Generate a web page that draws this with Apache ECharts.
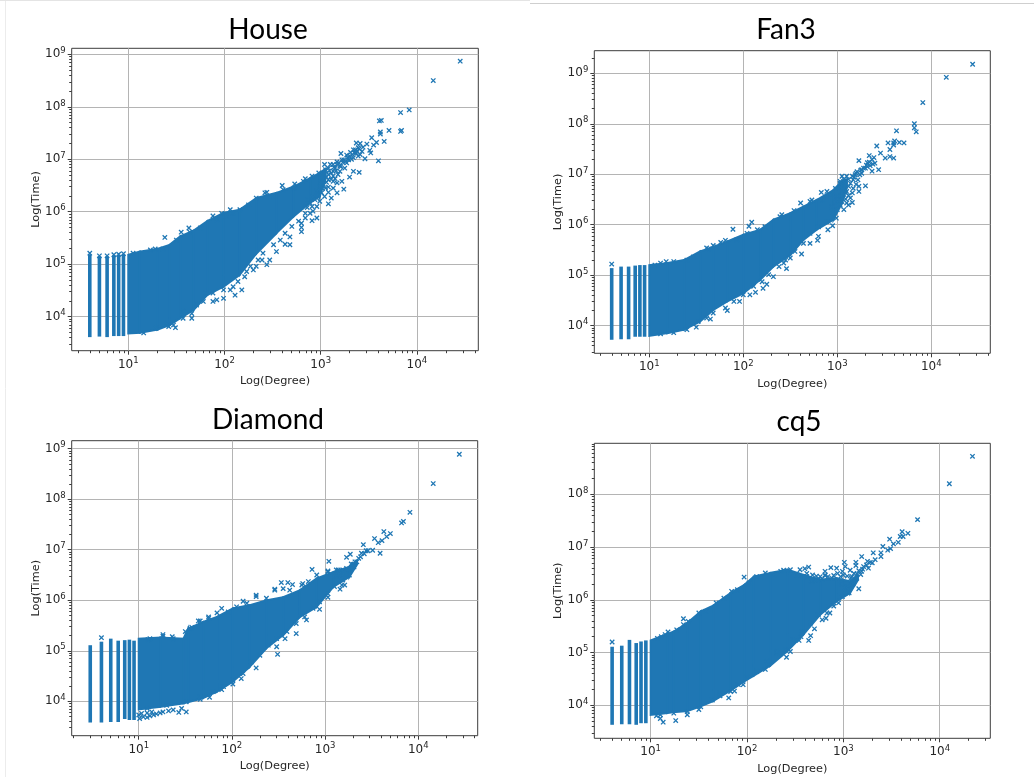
<!DOCTYPE html>
<html><head><meta charset="utf-8">
<style>html,body{margin:0;padding:0;background:#fff}#chart{width:1034px;height:777px;filter:blur(0.45px)}</style>
<script src="https://cdn.jsdelivr.net/npm/echarts@6/dist/echarts.min.js"></script>
</head><body><div id="chart"></div>
<script>
// All values below are log10 of the quantity (the axes are Log(Degree) / Log(Time)).
const houseColumns = [[0.60,3.61,5.19],[0.70,3.62,5.15],[0.78,3.61,5.15],[0.85,3.63,5.17],[0.90,3.63,5.18],[0.95,3.63,5.19]];
const houseColumnTops = [[0.60,5.21],[0.70,5.16],[0.78,5.16],[0.85,5.18],[0.90,5.19],[0.95,5.20]];
const houseBandX = [1,1.12,1.30,1.43,1.54,1.68,1.82,1.99,2.16,2.33,2.54,2.72,2.89,2.99,3.05];
const houseBandHigh = [5.18,5.24,5.29,5.37,5.53,5.64,5.82,5.98,6.04,6.26,6.36,6.48,6.64,6.74,6.82];
const houseBandLow = [3.68,3.69,3.75,3.84,3.97,4.13,4.41,4.57,4.80,5.20,5.59,5.91,6.17,6.29,6.62];
const houseScatter = [[4.45,8.87],[4.17,8.50],[3.92,7.94],[3.83,7.89],[3.63,7.74],[3.61,7.73],[3.71,7.55],[3.84,7.55],[3.83,7.53],[3.62,7.52],[3.62,7.48],[3.53,7.41],[3.66,7.34],[3.58,7.32],[3.55,7.27],[3.48,7.29],[3.60,6.97],[3.51,7.17],[3.52,7.12],[3.46,7.01],[3.44,7.23],[3.37,7.31],[3.41,7.30],[3.36,7.18],[3.39,7.22],[3.43,7.15],[3.37,7.12],[3.41,7.09],[3.34,7.03],[3.30,7.06],[3.27,7.08],[3.21,7.11],[3.29,6.99],[3.22,6.99],[3.17,6.95],[3.13,6.90],[3.04,6.90],[3.08,6.83],[3.15,6.83],[3.20,6.87],[3.25,6.83],[3.34,6.77],[3.40,6.75],[3.30,6.66],[3.22,6.58],[3.17,6.55],[3.13,6.68],[3.08,6.71],[3.03,6.74],[3.18,6.71],[3.08,6.47],[3.13,6.45],[3.24,6.43],[3.17,6.36],[3.08,6.37],[3.11,6.26],[3.08,6.15],[3.04,6.29],[2.99,6.20],[2.92,6.01],[2.96,5.88],[2.91,5.83],[2.80,5.78],[2.80,5.70],[2.80,5.62],[2.68,5.52],[2.68,5.37],[2.63,5.38],[2.54,5.24],[2.47,5.08],[2.39,5.08],[2.44,4.99],[2.33,4.96],[2.30,4.89],[2.23,4.86],[2.18,4.51],[2.11,4.41],[2.06,4.51],[1.99,4.35],[1.88,4.29],[1.81,4.45],[1.71,4.25],[1.57,4.10],[1.66,3.97],[1.49,3.79],[1.42,3.81],[1.38,5.51],[1.55,5.61],[1.63,5.69],[1.88,5.92],[1.97,5.97],[2.06,6.04],[2.16,6.04],[2.33,6.26],[2.44,6.37],[2.60,6.50],[2.73,6.53],[2.84,6.63]];
const houseEdge = [[1.05,5.21],[1.23,5.27],[1.28,5.29],[1.36,5.29],[1.50,5.46],[1.64,5.61],[1.75,5.69],[1.92,5.85],[2.02,5.91],[2.09,5.97],[2.25,6.13],[2.42,6.36],[2.51,6.29],[2.61,6.42],[2.72,6.45],[2.82,6.58],[2.91,6.68],[2.98,6.74],[1.16,3.69],[1.29,3.78],[1.40,3.87],[1.47,3.84],[1.57,3.97],[1.66,4.06],[1.71,4.22],[1.78,4.29],[1.88,4.45],[1.92,4.32],[1.99,4.51],[2.09,4.57],[2.14,4.67],[2.21,4.76],[2.27,4.96],[2.35,5.08],[2.40,5.21],[2.51,5.37],[2.58,5.46],[2.63,5.59],[2.70,5.72],[2.77,5.82],[2.84,5.97],[2.91,6.10],[3.01,6.68],[3.05,6.80],[3.10,6.90],[3.17,6.90],[3.24,6.99],[3.31,7.13],[3.34,7.18],[3.39,7.06],[3.27,6.93],[3.20,6.77],[3.13,6.77],[3.08,6.61],[3.13,6.58],[3.03,6.52],[2.99,6.48],[3.05,6.45],[2.96,6.39],[3.01,6.36],[2.94,6.23],[2.89,6.17],[2.96,6.10],[2.89,5.97],[2.84,5.88],[2.87,6.23],[3.02,6.62],[3.06,6.66],[3.09,6.78],[3.11,6.74],[3.14,6.85],[3.16,6.78],[3.19,6.93],[3.21,6.86],[3.23,6.94],[3.26,6.96],[3.28,7.03],[3.32,7.00],[3.33,7.09],[3.35,7.12],[3.38,7.15],[3.40,7.20],[3.11,6.62],[3.15,6.63],[3.06,6.56],[3.00,6.56],[2.97,6.33],[3.02,6.44],[2.92,6.28],[2.86,6.08]];

const fanColumns = [[0.60,3.72,5.14],[0.70,3.73,5.17],[0.78,3.73,5.17],[0.85,3.78,5.19],[0.90,3.78,5.20],[0.95,3.78,5.20]];
const fanColumnTops = [[0.60,5.22]];
const fanBandX = [1,1.19,1.37,1.54,1.68,1.83,2.00,2.18,2.32,2.50,2.64,2.78,2.96,3.05,3.10];
const fanBandHigh = [5.20,5.24,5.30,5.47,5.56,5.67,5.80,5.90,6.10,6.23,6.36,6.49,6.69,6.86,6.90];
const fanBandLow = [3.80,3.85,3.92,4.08,4.31,4.48,4.64,4.91,5.17,5.40,5.70,5.90,6.10,6.43,6.72];
const fanScatter = [[4.44,9.18],[4.16,8.92],[3.91,8.42],[3.82,8.00],[3.82,7.92],[3.84,7.84],[3.63,7.86],[3.61,7.66],[3.60,7.62],[3.60,7.58],[3.66,7.63],[3.71,7.62],[3.54,7.62],[3.42,7.56],[3.56,7.49],[3.46,7.42],[3.56,7.35],[3.60,7.32],[3.51,7.32],[3.39,7.33],[3.34,7.37],[3.44,7.09],[3.37,7.29],[3.40,7.22],[3.32,7.23],[3.23,7.27],[3.35,7.17],[3.30,7.12],[3.37,7.06],[3.26,7.09],[3.20,7.02],[3.24,6.99],[3.16,6.96],[3.10,6.96],[3.22,6.89],[3.30,6.77],[3.23,6.66],[3.16,6.63],[3.09,6.63],[3.05,6.96],[3.03,6.86],[3.12,6.76],[3.09,6.51],[3.16,6.44],[3.12,6.39],[3.07,6.30],[2.99,6.13],[2.95,5.98],[2.90,5.90],[2.83,6.64],[2.89,6.66],[2.80,5.77],[2.79,5.69],[2.71,5.63],[2.62,5.42],[2.46,5.13],[2.25,4.82],[2.21,4.74],[2.13,4.66],[2.07,4.61],[1.96,4.48],[1.83,4.30],[1.65,4.13],[1.50,3.97],[1.89,5.91],[2.09,6.05],[2.06,5.97],[1.61,5.54],[1.68,5.59],[1.76,5.65],[2.61,6.43],[2.73,6.49],[2.54,6.28],[2.39,6.16],[1.18,5.27],[2.50,5.34],[2.43,5.24],[2.32,4.97]];
const fanEdge = [[1.06,5.20],[1.12,5.24],[1.26,5.27],[1.40,5.30],[1.47,5.36],[1.63,5.52],[1.72,5.56],[1.81,5.69],[1.93,5.70],[2.04,5.83],[2.15,5.90],[2.23,5.96],[2.41,6.20],[2.71,6.46],[2.85,6.49],[2.93,6.59],[2.98,6.72],[3.03,6.82],[1.12,3.84],[1.26,3.86],[1.40,3.92],[1.52,4.08],[1.61,4.15],[1.68,4.25],[1.81,4.35],[1.90,4.48],[2.00,4.61],[2.11,4.78],[2.20,4.87],[2.27,5.01],[2.38,5.17],[2.45,5.30],[2.55,5.47],[2.64,5.63],[2.71,5.83],[2.80,5.96],[2.89,6.06],[2.96,6.23],[3.03,6.39],[3.09,6.86],[3.17,6.89],[3.19,6.99],[3.26,7.02],[3.32,7.15],[3.10,6.66],[3.05,6.72],[3.00,6.56],[3.05,6.46],[2.94,6.36],[3.00,6.30],[3.14,6.53],[3.23,6.76],[3.17,6.72],[3.10,6.43],[3.07,6.90],[3.12,6.90],[3.14,6.82],[3.18,6.94],[3.21,7.05],[3.25,7.08],[3.28,7.12],[3.31,7.18],[3.34,7.24],[3.38,7.20],[3.12,6.58],[3.07,6.60],[3.04,6.58],[3.02,6.48],[2.97,6.45],[3.08,6.78],[3.20,6.80]];

const diamondColumns = [[0.48,3.58,5.11],[0.60,3.58,5.18],[0.70,3.59,5.24],[0.78,3.59,5.20],[0.85,3.65,5.21],[0.90,3.63,5.22],[0.95,3.63,5.20]];
const diamondColumnTops = [[0.60,5.26]];
const diamondBandX = [1,1.23,1.48,1.53,1.69,1.84,2.01,2.19,2.37,2.55,2.73,2.91,3.09,3.26,3.34];
const diamondBandHigh = [5.24,5.26,5.24,5.44,5.57,5.67,5.84,5.90,6.00,6.06,6.20,6.43,6.56,6.66,6.78];
const diamondBandLow = [3.84,3.89,3.96,3.98,4.06,4.19,4.39,4.68,5.05,5.31,5.67,5.87,6.27,6.46,6.70];
const diamondScatter = [[4.44,8.89],[4.16,8.31],[3.91,7.74],[3.84,7.56],[3.82,7.53],[3.63,7.36],[3.70,7.32],[3.66,7.26],[3.53,7.22],[3.61,7.18],[3.57,7.14],[3.59,6.93],[3.41,7.10],[3.51,6.99],[3.44,6.98],[3.39,6.93],[3.27,6.91],[3.23,6.85],[3.36,6.83],[3.34,6.76],[3.30,6.71],[3.04,6.77],[2.86,6.61],[3.25,6.60],[3.19,6.60],[3.14,6.60],[3.03,6.58],[3.21,6.30],[3.18,6.30],[3.16,6.22],[3.03,6.06],[2.94,5.82],[2.80,5.61],[2.69,5.34],[2.57,5.24],[2.48,5.08],[2.49,4.93],[2.26,4.66],[2.10,4.45],[2.01,4.34],[1.89,4.23],[1.76,4.08],[1.66,4.04],[2.53,6.35],[2.60,6.35],[2.55,6.23],[2.46,6.22],[2.65,6.31],[2.76,6.33],[2.26,6.10],[2.12,5.98],[1.89,5.84],[1.75,5.67],[1.64,5.59],[1.55,5.44],[1.26,5.32],[1.36,5.28],[1.10,5.22],[1.01,3.66],[1.05,3.69],[1.09,3.68],[1.12,3.71],[1.16,3.73],[1.19,3.75],[1.23,3.77],[1.26,3.79],[1.32,3.81],[1.37,3.83],[1.43,3.78],[1.46,3.86],[1.51,3.79],[1.00,3.73],[1.03,3.76],[1.09,3.77],[1.14,3.79]];
const diamondEdge = [[1.12,5.24],[1.26,5.29],[1.37,5.24],[1.50,5.38],[1.57,5.46],[1.66,5.59],[1.75,5.64],[1.84,5.75],[1.96,5.77],[2.05,5.87],[2.16,5.94],[2.26,6.07],[2.37,6.04],[2.46,6.20],[2.62,6.20],[2.75,6.30],[2.82,6.37],[2.91,6.50],[3.03,6.56],[3.12,6.60],[3.23,6.63],[1.09,3.86],[1.30,3.92],[1.51,3.99],[1.66,4.09],[1.80,4.19],[1.91,4.29],[2.01,4.42],[2.12,4.55],[2.21,4.78],[2.30,4.91],[2.39,5.11],[2.48,5.24],[2.59,5.38],[2.69,5.54],[2.78,5.67],[2.87,5.84],[2.94,5.97],[3.03,6.13],[3.10,6.27],[3.19,6.40],[3.26,6.50],[3.12,6.48],[3.15,6.52],[3.20,6.52],[3.28,6.72],[3.32,6.76],[3.38,6.86],[3.42,6.92],[3.46,6.98],[3.31,6.66],[3.17,6.42]];

const cqColumns = [[0.60,3.63,5.11],[0.70,3.64,5.13],[0.78,3.64,5.24],[0.85,3.63,5.18],[0.90,3.66,5.21],[0.95,3.66,5.23]];
const cqColumnTops = [[0.60,5.20]];
const cqBandX = [1,1.17,1.24,1.38,1.52,1.65,1.83,1.97,2.07,2.24,2.42,2.59,2.76,2.93,3.07,3.15];
const cqBandHigh = [5.23,5.35,5.40,5.56,5.78,5.89,6.13,6.28,6.44,6.51,6.57,6.47,6.38,6.41,6.35,6.47];
const cqBandLow = [3.82,3.85,3.87,3.89,3.98,4.08,4.28,4.45,4.56,4.75,5.03,5.35,5.72,5.97,6.13,6.37];
const cqScatter = [[4.34,8.72],[4.10,8.20],[3.77,7.52],[3.61,7.29],[3.67,7.26],[3.59,7.20],[3.62,7.20],[3.48,7.15],[3.57,7.09],[3.52,7.06],[3.41,7.01],[3.49,6.97],[3.46,6.94],[3.31,6.89],[3.19,6.82],[3.01,6.71],[3.13,6.71],[3.13,6.65],[3.39,6.89],[3.39,6.82],[3.33,6.76],[3.30,6.70],[3.25,6.73],[3.21,6.63],[3.26,6.60],[3.19,6.54],[3.14,6.49],[3.09,6.44],[3.02,6.63],[2.93,6.60],[2.99,6.54],[3.07,6.56],[3.16,6.21],[3.04,6.25],[3.02,6.16],[2.95,5.94],[2.82,5.65],[2.86,5.75],[2.66,5.32],[2.64,5.23],[2.54,5.23],[2.41,4.91],[2.31,4.99],[2.19,4.68],[1.96,4.39],[1.87,4.27],[1.81,4.14],[1.72,4.18],[1.50,3.92],[1.38,3.82],[1.26,3.71],[1.13,3.68],[1.10,3.75],[1.06,3.80],[1.97,6.43],[1.84,6.16],[1.68,5.94],[1.34,5.64],[1.34,5.53],[1.18,5.39],[1.11,5.30],[2.19,6.51],[2.38,6.56],[2.55,6.57],[2.64,6.62],[2.60,6.59],[2.81,6.54],[2.87,6.61],[2.76,6.44],[2.71,6.38],[2.81,6.46]];
const cqEdge = [[1.07,5.27],[1.15,5.34],[1.27,5.43],[1.39,5.59],[1.50,5.75],[1.57,5.78],[1.76,6.03],[1.90,6.19],[2.02,6.32],[2.10,6.44],[2.28,6.47],[2.35,6.54],[2.45,6.57],[2.52,6.47],[2.62,6.44],[2.67,6.35],[2.74,6.38],[2.81,6.47],[2.88,6.41],[2.97,6.44],[1.10,3.82],[1.24,3.85],[1.38,3.88],[1.52,3.97],[1.64,4.10],[1.72,4.23],[1.83,4.26],[1.91,4.39],[2.00,4.54],[2.10,4.64],[2.21,4.83],[2.31,5.02],[2.40,5.05],[2.48,5.24],[2.57,5.40],[2.66,5.56],[2.74,5.72],[2.83,5.75],[2.90,5.94],[2.99,6.06],[3.06,6.13],[3.09,6.35],[3.14,6.41],[2.62,6.50],[2.68,6.47],[2.72,6.45],[2.78,6.40],[2.84,6.44],[2.90,6.46],[2.94,6.50],[3.00,6.47],[3.04,6.45],[3.08,6.42],[3.11,6.50],[3.16,6.55],[3.20,6.58],[3.24,6.66],[3.28,6.71],[3.18,6.48],[2.98,6.30],[3.05,6.20],[3.10,6.30],[2.90,5.88],[2.78,5.62],[2.70,5.45],[2.56,5.30],[2.45,5.02]];

const panelTitles = ['House','Fan3','Diamond','cq5'];
const xTitle = 'Log(Degree)';
const yTitle = 'Log(Time)';
const xTickValues = [10,100,1000,10000];
const houseYTicks = [1e4,1e5,1e6,1e7,1e8,1e9];
const fanYTicks = [1e4,1e5,1e6,1e7,1e8,1e9];
const diamondYTicks = [1e4,1e5,1e6,1e7,1e8,1e9];
const cqYTicks = [1e4,1e5,1e6,1e7,1e8];
const minorMantissas = [2,3,4,5,6,7,8,9];

const panels = [
  {title:panelTitles[0],cols:houseColumns,tops:houseColumnTops,bx:houseBandX,bh:houseBandHigh,bl:houseBandLow,pts:houseScatter.concat(houseEdge),yt:houseYTicks,
   grid:{left:71.7,top:48.3,width:406.6,height:302.4},xr:[0.412,4.638],yr:[3.351,9.115],tx:263,ty:11},
  {title:panelTitles[1],cols:fanColumns,tops:fanColumnTops,bx:fanBandX,bh:fanBandHigh,bl:fanBandLow,pts:fanScatter.concat(fanEdge),yt:fanYTicks,
   grid:{left:594.3,top:50.7,width:396,height:302.6},xr:[0.415,4.628],yr:[3.452,9.448],tx:781,ty:11},
  {title:panelTitles[2],cols:diamondColumns,tops:diamondColumnTops,bx:diamondBandX,bh:diamondBandHigh,bl:diamondBandLow,pts:diamondScatter.concat(diamondEdge),yt:diamondYTicks,
   grid:{left:71.7,top:440.7,width:406,height:295},xr:[0.281,4.637],yr:[3.319,9.158],tx:263,ty:401},
  {title:panelTitles[3],cols:cqColumns,tops:cqColumnTops,bx:cqBandX,bh:cqBandHigh,bl:cqBandLow,pts:cqScatter.concat(cqEdge),yt:cqYTicks,
   grid:{left:594.3,top:443.3,width:396,height:295},xr:[0.415,4.525],yr:[3.374,8.967],tx:794,ty:403}
];

const BLUE = '#1f77b4', GRIDC = '#b4b4b4', DARK = '#3c3c3c', TXT = '#262626';
const pow = v => Math.pow(10, v);
const xMark = 'path://M0 0L10 10M10 0L0 10';

function superLabel(v){
  const e = Math.log10(v), r = Math.round(e);
  if (Math.abs(e - r) > 1e-6) return '';
  return '{b|10}{s|' + r + '}';
}
const labelStyle = {formatter:superLabel,color:TXT,margin:6,hideOverlap:false,
  rich:{b:{fontFamily:'DejaVu Sans',fontSize:12,color:TXT},
        s:{fontFamily:'DejaVu Sans',fontSize:8.5,color:TXT,padding:[0,0,7,0]}}};
function minorValues(range){
  const out = [];
  for (let e = Math.floor(range[0]); e <= Math.ceil(range[1]); e++)
    minorMantissas.forEach(m => { const l = e + Math.log10(m); if (l > range[0] && l < range[1]) out.push(pow(l)); });
  return out;
}

const grid=[],xAxis=[],yAxis=[],series=[],title=[];
panels.forEach((p,i)=>{
  grid.push(Object.assign({show:true,borderColor:DARK,borderWidth:1,backgroundColor:'#fff',containLabel:false},p.grid));
  title.push({text:p.title,left:p.tx,top:p.ty,textAlign:'center',textStyle:{fontFamily:'Lato',fontSize:28,fontWeight:'normal',color:'#000'}});
  const axisCommon = {type:'log',logBase:10,gridIndex:i,silent:true,
    axisLine:{show:false},
    minorTick:{show:false},
    splitLine:{show:true,lineStyle:{color:GRIDC,width:1}},
    nameTextStyle:{fontFamily:'DejaVu Sans',fontSize:11.3,color:TXT}};
  xAxis.push(Object.assign({},axisCommon,{position:'bottom',min:pow(p.xr[0]),max:pow(p.xr[1]),name:xTitle,nameLocation:'middle',nameGap:25,
    axisTick:{show:true,length:4,lineStyle:{color:DARK,width:1},customValues:xTickValues},
    axisLabel:Object.assign({customValues:xTickValues},labelStyle)}));
  yAxis.push(Object.assign({},axisCommon,{position:'left',min:pow(p.yr[0]),max:pow(p.yr[1]),name:yTitle,nameLocation:'middle',nameGap:30,
    axisTick:{show:true,length:4,lineStyle:{color:DARK,width:1},customValues:p.yt},
    axisLabel:Object.assign({customValues:p.yt},labelStyle)}));

  // main dense body of the cloud, from the read envelope
  const band = p.bx.map((x,k)=>{
    const n = Math.min(k+1,p.bx.length-1);
    return [pow(x),pow(p.bl[k]),pow(p.bh[k]),pow(p.bx[n]),pow(p.bl[n]),pow(p.bh[n])];
  });
  series.push({type:'custom',xAxisIndex:i,yAxisIndex:i,silent:true,z:3,data:band,encode:{x:[0,3],y:[1,2,4,5]},
    renderItem:(params,api)=>{
      const a=api.coord([api.value(0),api.value(1)]),b=api.coord([api.value(0),api.value(2)]),
            c=api.coord([api.value(3),api.value(5)]),d=api.coord([api.value(3),api.value(4)]);
      return {type:'polygon',shape:{points:[a,b,c,d]},style:{fill:BLUE,stroke:BLUE,lineWidth:2}};
    }});
  // separate vertical stripes at the low integer degrees
  series.push({type:'custom',xAxisIndex:i,yAxisIndex:i,silent:true,z:3,
    data:p.cols.map(c=>[pow(c[0]),pow(c[1]),pow(c[2])]),encode:{x:0,y:[1,2]},
    renderItem:(params,api)=>{
      const a=api.coord([api.value(0),api.value(1)]),b=api.coord([api.value(0),api.value(2)]);
      return {type:'line',shape:{x1:a[0],y1:a[1],x2:b[0],y2:b[1]},style:{stroke:BLUE,lineWidth:3.6}};
    }});
  // individual x markers
  series.push({type:'scatter',xAxisIndex:i,yAxisIndex:i,silent:true,z:4,symbol:xMark,symbolSize:4.4,
    itemStyle:{color:'none',borderColor:BLUE,borderWidth:1.3,opacity:1},
    data:p.pts.concat(p.tops).map(q=>[pow(q[0]),pow(q[1])])});
});
// second, label-less axes on each grid that carry only the logarithmic minor ticks
panels.forEach((p,i)=>{
  const minor = {type:'log',logBase:10,gridIndex:i,silent:true,axisLine:{show:false},axisLabel:{show:false},splitLine:{show:false},minorTick:{show:false}};
  xAxis.push(Object.assign({},minor,{position:'bottom',min:pow(p.xr[0]),max:pow(p.xr[1]),
    axisTick:{show:true,length:2.5,lineStyle:{color:DARK,width:1},customValues:minorValues(p.xr)}}));
  yAxis.push(Object.assign({},minor,{position:'left',min:pow(p.yr[0]),max:pow(p.yr[1]),
    axisTick:{show:true,length:2.5,lineStyle:{color:DARK,width:1},customValues:minorValues(p.yr)}}));
});

const chart = echarts.init(document.getElementById('chart'),null,{renderer:'canvas'});
chart.setOption({
  animation:false,backgroundColor:'#fff',title,grid,xAxis,yAxis,series,
  graphic:[
    {type:'line',silent:true,shape:{x1:5.5,y1:0,x2:5.5,y2:777},style:{stroke:'#ececec',lineWidth:1}},
    {type:'line',silent:true,shape:{x1:0,y1:0.5,x2:530,y2:0.5},style:{stroke:'#e4e4e4',lineWidth:1}},
    {type:'line',silent:true,shape:{x1:530,y1:3.5,x2:1034,y2:3.5},style:{stroke:'#cfcfcf',lineWidth:1}}
  ]
});
</script></body></html>
